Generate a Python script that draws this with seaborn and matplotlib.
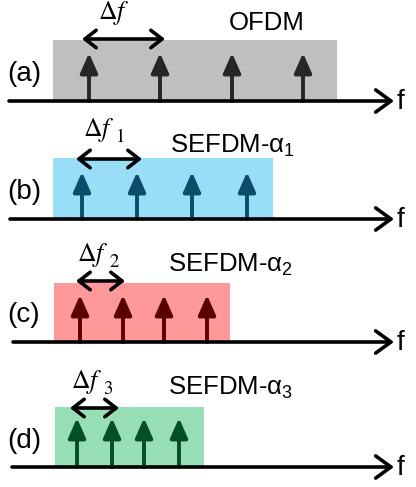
import matplotlib
matplotlib.use("Agg")
import matplotlib.pyplot as plt
from matplotlib.patches import Rectangle
import seaborn as sns

# ---------------- data (diagram units, x = frequency, y = panel baseline) -------------
panel_tags = ["(a)", "(b)", "(c)", "(d)"]
scheme_names = ["OFDM", r"SEFDM-$\mathregular{\alpha_1}$",
                r"SEFDM-$\mathregular{\alpha_2}$", r"SEFDM-$\mathregular{\alpha_3}$"]
spacing_main = r"$\Delta f$"
spacing_subs = ["", "1", "2", "3"]
baselines = [101, 219, 342, 467]
band_left = [53, 53, 54, 55]
band_right = [337, 273, 230, 204]
band_top = [40, 158, 283, 407]
subcarriers = [
    [89, 160, 232, 303],
    [82, 137, 192, 247],
    [80, 123, 164, 207],
    [77, 112, 144, 179],
]
carrier_tops = [53, 172, 295, 418]
spacing_left = [82, 76, 76, 70]
spacing_right = [165, 142, 125, 119]
spacing_y = [39, 159, 281, 408]
spacing_label_x = [114, 98.5, 92.5, 86.5]
spacing_label_base = [19, 136, 261, 388]
name_x = [267, 232, 230, 231]
name_y = [23, 146, 265, 388]
tag_y = [74, 192, 315, 441]
axis_start = [9, 10, 13, 12]
axis_end = 394
band_colors = ["#bfbfbf", "#99ddf7", "#ff9999", "#97ddb6"]
carrier_colors = ["#262626", "#0b4d6a", "#5a0000", "#004f29"]

# ---------------- drawing ----------------
sns.set_theme(style="white")
plt.rcParams["font.family"] = ["Liberation Sans", "DejaVu Sans"]
plt.rcParams["mathtext.fontset"] = "stix"

fig = plt.figure(figsize=(4.16, 4.87), dpi=100)
ax = fig.add_axes([0, 0, 1, 1])
ax.set_xlim(0, 416)
ax.set_ylim(487, 0)
ax.axis("off")

for i in range(4):
    y0 = baselines[i]
    ax.add_patch(Rectangle((band_left[i], band_top[i]), band_right[i] - band_left[i],
                           y0 - band_top[i], facecolor=band_colors[i],
                           edgecolor="none", zorder=1))
    # frequency axis
    ax.annotate("", xy=(axis_end, y0), xytext=(axis_start[i], y0),
                arrowprops=dict(arrowstyle="->,head_length=0.55,head_width=0.4",
                                lw=2.6, color="black", shrinkA=0, shrinkB=0,
                                mutation_scale=20), zorder=3)
    ax.text(axis_end + 3, y0 + 1, "f", fontsize=20, ha="left", va="center",
            color="black")
    # subcarriers
    for xc in subcarriers[i]:
        ax.annotate("", xy=(xc, carrier_tops[i]), xytext=(xc, y0),
                    arrowprops=dict(arrowstyle="-|>,head_length=0.75,head_width=0.33",
                                    lw=2.8, color=carrier_colors[i], shrinkA=0,
                                    shrinkB=0, mutation_scale=16), zorder=2)
    # spacing double arrow
    ax.annotate("", xy=(spacing_right[i], spacing_y[i]), xytext=(spacing_left[i], spacing_y[i]),
                arrowprops=dict(arrowstyle="<->,head_length=0.45,head_width=0.35",
                                lw=2.6, color="black", shrinkA=0, shrinkB=0,
                                mutation_scale=18), zorder=4)
    main = ax.text(spacing_label_x[i], spacing_label_base[i], spacing_main,
                   fontsize=18.5, ha="center", va="baseline", color="black")
    if spacing_subs[i]:
        ax.annotate(r"$\mathrm{%s}$" % spacing_subs[i], xy=(1, 0), xycoords=main,
                    xytext=(0.3, -1.5), textcoords="offset points",
                    fontsize=13.5, ha="left", va="bottom", color="black")
    ax.text(name_x[i], name_y[i], scheme_names[i], fontsize=18.5, ha="center",
            va="center", color="black")
    ax.text(24, tag_y[i], panel_tags[i], fontsize=20, ha="center", va="center",
            color="black")

fig.savefig("out.png", dpi=100)
